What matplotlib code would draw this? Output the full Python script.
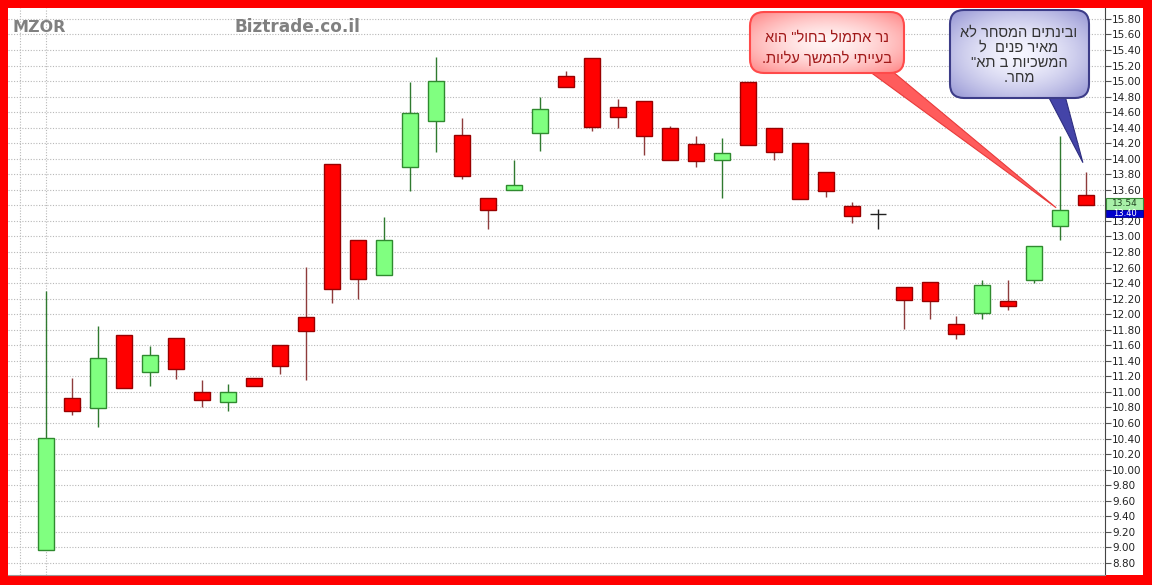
import numpy as np
import matplotlib
matplotlib.use("Agg")
import matplotlib.pyplot as plt
from matplotlib.patches import FancyBboxPatch, Rectangle, Polygon
import matplotlib.colors as mcolors

# ---------------- data ----------------
opens = [8.96, 10.92, 10.79, 11.73, 11.26, 11.70, 11.00, 10.87, 11.18, 11.60,
         11.97, 13.93, 12.95, 12.50, 13.89, 14.48, 14.31, 13.49, 13.60, 14.33,
         15.07, 15.30, 14.66, 14.74, 14.39, 14.19, 13.99, 14.99, 14.40, 14.20,
         13.83, 13.39, 13.29, 12.35, 12.41, 11.87, 12.01, 12.17, 12.44, 13.14,
         13.54]
highs = [12.30, 11.18, 11.85, 11.73, 11.59, 11.70, 11.15, 11.10, 11.18, 11.60,
         12.61, 13.93, 12.95, 13.25, 14.99, 15.31, 14.53, 13.49, 13.99, 14.79,
         15.13, 15.30, 14.77, 14.74, 14.42, 14.29, 14.27, 14.99, 14.40, 14.20,
         13.83, 13.44, 13.35, 12.35, 12.41, 11.98, 12.44, 12.44, 12.88, 14.29,
         13.83]
lows = [8.96, 10.70, 10.55, 11.05, 11.08, 11.16, 10.80, 10.75, 11.07, 11.23,
        11.15, 12.15, 12.20, 12.50, 13.58, 14.09, 13.74, 13.09, 13.60, 14.10,
        14.92, 14.36, 14.40, 14.05, 13.98, 13.90, 13.50, 14.18, 13.99, 13.48,
        13.51, 13.17, 13.09, 11.81, 11.94, 11.68, 11.94, 12.05, 12.40, 12.96,
        13.40]
closes = [10.41, 10.75, 11.44, 11.05, 11.47, 11.29, 10.90, 11.00, 11.07, 11.33,
          11.78, 12.32, 12.45, 12.95, 14.59, 15.00, 13.78, 13.34, 13.66, 14.64,
          14.92, 14.41, 14.54, 14.29, 13.98, 13.97, 14.08, 14.18, 14.09, 13.48,
          13.59, 13.26, 13.29, 12.18, 12.17, 11.75, 12.37, 12.10, 12.88, 13.34,
          13.40]
y_ticks = [8.80, 9.00, 9.20, 9.40, 9.60, 9.80, 10.00, 10.20, 10.40, 10.60,
           10.80, 11.00, 11.20, 11.40, 11.60, 11.80, 12.00, 12.20, 12.40, 12.60,
           12.80, 13.00, 13.20, 13.40, 13.60, 13.80, 14.00, 14.20, 14.40, 14.60,
           14.80, 15.00, 15.20, 15.40, 15.60, 15.80]
symbol = "MZOR"
site = "Biztrade.co.il"
last_labels = ["13.54", "13.40"]
note_red = ['נר אתמול בחול" הוא', 'בעייתי להמשך עליות.']
note_blue = ['ובינתים המסחר לא', 'מאיר פנים  ל', 'המשכיות ב תא"', 'מחר.']

o = np.array(opens); h = np.array(highs); l = np.array(lows); c = np.array(closes)
n = len(o)
x = np.arange(n)


def visual(line):
    """matplotlib has no bidi support: lay the right-to-left line out in visual order."""
    return line[::-1]


W, H = 1152, 585
fig = plt.figure(figsize=(W / 100, H / 100), dpi=100, facecolor='#ff0000')
fig.patches.append(Rectangle((8 / W, (H - 575) / H), (1143 - 8) / W, (575 - 8) / H,
                             transform=fig.transFigure, facecolor='white',
                             edgecolor='none', zorder=-10))

ax = fig.add_axes([8 / W, (H - 575) / H, (1105 - 8) / W, (575 - 8) / H], zorder=1)
ax.set_facecolor('white')
ax.set_xlim(-1.46, n - 1 + 0.73)
ax.set_ylim(8.644, 15.94)

up = c > o
dn = c < o
dj = c == o
bw = 0.6
ax.vlines(x[up], l[up], h[up], color='#2f7a2f', lw=1.0, zorder=2)
ax.vlines(x[dn], l[dn], h[dn], color='#8e3b3b', lw=1.0, zorder=2)
ax.vlines(x[dj], l[dj], h[dj], color='#222222', lw=1.0, zorder=2)
ax.bar(x[up], (c - o)[up], bottom=o[up], width=bw, color='#80ff80',
       edgecolor='#2f8a2f', lw=1.0, zorder=3)
ax.bar(x[dn], (o - c)[dn], bottom=c[dn], width=bw, color='#ff0000',
       edgecolor='#990000', lw=1.0, zorder=3)
ax.hlines(c[dj], x[dj] - bw / 2, x[dj] + bw / 2, color='#222222', lw=1.0, zorder=3)

# the last-price boxes cover the 13.40 tick label, as in the reference
tick_text = ["" if abs(v - last_labels_v) < 1e-9 else f"{v:.2f}"
             for v in y_ticks
             for last_labels_v in [float(last_labels[1])]]
ax.set_yticks(y_ticks)
ax.set_yticklabels(tick_text)
ax.yaxis.tick_right()
ax.tick_params(axis='y', right=True, left=False, length=4, width=0.8,
               color='#555555', labelsize=7.5, labelcolor='#222222', pad=1)
ax.set_xticks([-1, 0])
ax.tick_params(axis='x', length=0, labelbottom=False)
ax.grid(True, color='#b8b8b8', linestyle=(0, (1, 1.5)), lw=0.8)
ax.set_axisbelow(True)
for s in ['left', 'top']:
    ax.spines[s].set_visible(False)
ax.spines['right'].set_color('#444444')
ax.spines['bottom'].set_color('#999999')

# ---------------- overlay in pixel coordinates ----------------
ov = fig.add_axes([0, 0, 1, 1], facecolor='none', zorder=5)
ov.set_xlim(0, W)
ov.set_ylim(H, 0)
ov.axis('off')


def to_px(xd, yd):
    px, py = ax.transData.transform((xd, yd))
    return px, H - py


ov.text(12, 27, symbol, fontsize=11.5, fontweight='bold', color='#808080',
        ha='left', va='center')
ov.text(234, 27, site, fontsize=12.2, fontweight='bold', color='#808080',
        ha='left', va='center')


def bubble(x0, y0, x1, y1, cin, cout, edge, lw):
    patch = FancyBboxPatch((x0, y0), x1 - x0, y1 - y0,
                           boxstyle="round,pad=0,rounding_size=14",
                           facecolor='none', edgecolor=edge, lw=lw, zorder=4)
    ov.add_patch(patch)
    gy, gx = np.mgrid[-1:1:80j, -1:1:160j]
    t = np.clip(np.sqrt(gx ** 2 + gy ** 2) / 1.35, 0, 1) ** 1.6
    a = np.array(mcolors.to_rgb(cin)); b = np.array(mcolors.to_rgb(cout))
    img = a[None, None, :] * (1 - t[..., None]) + b[None, None, :] * t[..., None]
    im = ov.imshow(img, extent=(x0, x1, y1, y0), aspect='auto', zorder=3,
                   interpolation='bilinear')
    im.set_clip_path(patch)


# red callout
rt = to_px(38.85, 13.37)
ov.add_patch(Polygon([(862, 66), (886, 66), rt], closed=True, facecolor='#ff5c5c',
                     edgecolor='#e83a3a', lw=0.8, zorder=2.5))
bubble(750, 12, 904, 73, '#fff4f4', '#ff8a8a', '#ff4a4a', 1.5)
for i, line in enumerate(note_red):
    ov.text(827, 38 + i * 20, visual(line), family=['Liberation Sans', 'DejaVu Sans'],
            fontsize=10.5, color='#a01818', ha='center', va='center', zorder=6)

# blue callout
bt = to_px(39.88, 13.95)
ov.add_patch(Polygon([(1046, 92), (1064, 92), bt], closed=True, facecolor='#4444a8',
                     edgecolor='#2e2e80', lw=0.8, zorder=2.5))
bubble(950, 10, 1089, 98, '#f6f6ff', '#9a9ad6', '#3c3c88', 1.5)
for i, line in enumerate(note_blue):
    ov.text(1019, 33 + i * 15, visual(line), family=['Liberation Sans', 'DejaVu Sans'],
            fontsize=10.5, color='#333333', ha='center', va='center', zorder=6)

# last price labels
gy0 = to_px(0, 13.50)[1]; gy1 = to_px(0, 13.345)[1]
by1 = to_px(0, 13.25)[1]
gr = Rectangle((1106, gy0), 37, gy1 - gy0, facecolor='#a8f0a8', edgecolor='#3a8a3a',
               lw=0.8, zorder=4)
ov.add_patch(gr)
ov.text(1124.5, (gy0 + gy1) / 2 - 0.5, last_labels[0], fontsize=6.5, color='#224422',
        ha='center', va='center', zorder=5)
br = Rectangle((1106, gy1), 37, by1 - gy1, facecolor='#0000cc', edgecolor='#000088',
               lw=0.6, zorder=6)
ov.add_patch(br)
ov.text(1124.5, (gy1 + by1) / 2 + 0.5, last_labels[1], fontsize=6, color='white',
        ha='center', va='center', zorder=7)

fig.savefig("out.png", dpi=100, facecolor=fig.get_facecolor())
